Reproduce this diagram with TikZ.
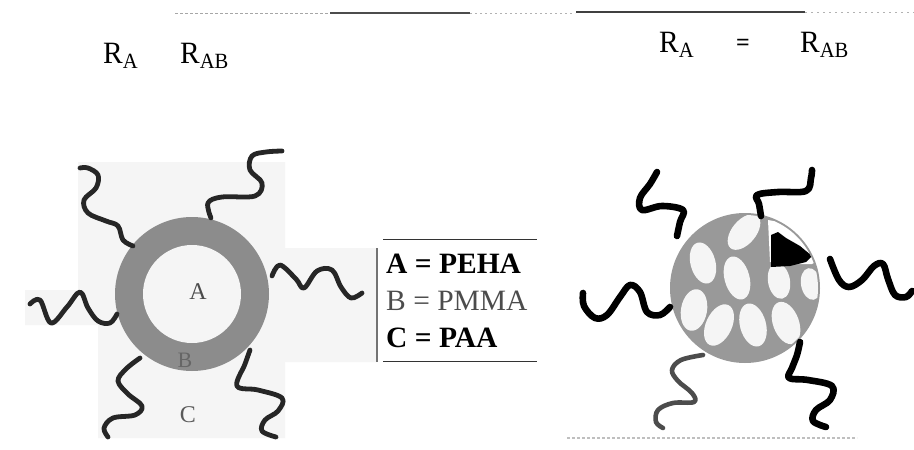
\documentclass[tikz,border=0pt]{standalone}
\usepackage{fontspec}
\setmainfont{Liberation Serif}
\begin{document}
\begin{tikzpicture}[x=1pt,y=-1pt,
  chain/.style={line width=4.8pt, draw=black!85, line cap=round, line join=round},
  bchain/.style={line width=6.6pt, draw=black, line cap=round, line join=round},
  gchain/.style={line width=4.6pt, draw=black!70, line cap=round, line join=round},
  blob/.style={fill=black!4, draw=none},
  lab/.style={font=\fontsize{31}{31}\selectfont, inner sep=0pt, anchor=base west},
  leg/.style={font=\fontsize{29.5}{29.5}\selectfont, inner sep=0pt, anchor=base west}]
\useasboundingbox (0,0) rectangle (914,450);
\fill[white] (0,0) rectangle (914,450);

% page edge lines
\draw[black!35, line width=1pt, dash pattern=on 3pt off 2pt] (175,13) -- (330,13);
\draw[black!70, line width=1.3pt] (330,13) -- (470,13);
\draw[black!30, line width=1pt, dash pattern=on 2pt off 3pt] (470,13) -- (575,13);
\draw[black!75, line width=1.5pt] (576,12) -- (805,12);
\draw[black!30, line width=1pt, dash pattern=on 2pt off 4pt] (805,12) -- (914,12);
\draw[black!25, line width=1.2pt, dash pattern=on 3pt off 2pt] (567,438) -- (857,438);

% labels
\node[lab] (ra1) at (103,63) {\scalebox{0.95}[1]{R\textsubscript{A}}};
\node[lab] (rab1) at (180,63) {\scalebox{0.95}[1]{R\textsubscript{AB}}};
\node[lab] (ra2) at (659,52) {\scalebox{0.95}[1]{R\textsubscript{A}}};
\node[lab, font=\fontsize{24}{24}\selectfont] (eq2) at (736,50) {\textbf{=}};
\node[lab] (rab2) at (800,52) {\scalebox{0.95}[1]{R\textsubscript{AB}}};

% light backdrop behind the left particle
\fill[black!4] (78,162) -- (285,162) -- (285,248) -- (377,248) -- (377,362)
  -- (285,362) -- (285,438) -- (98,438) -- (98,325) -- (25,325) -- (25,290) -- (78,290) -- cycle;
\draw[black!55, line width=2pt] (377,248) -- (377,362);

% left particle: core A, shell B, corona C
\fill[black!45] (192,294) circle (77);
\fill[black!4] (192,294) circle (49);
\node[font=\fontsize{24}{24}\selectfont, text=black!70] (la) at (198,292) {A};
\node[font=\fontsize{22}{22}\selectfont, text=black!60] (lb) at (185,360) {B};
\node[font=\fontsize{24}{24}\selectfont, text=black!65] (lc) at (188,415) {C};

\draw[chain] plot[smooth, tension=0.6] coordinates {(133,246) (123,240) (118,226) (106,221) (88,213) (84,200) (96,188) (98,175) (88,168) (80,168)};
\draw[chain] plot[smooth, tension=0.6] coordinates {(211,218) (208,203) (222,197) (255,196) (262,183) (250,170) (252,156) (266,152) (282,151)};
\draw[chain] plot[smooth, tension=0.6] coordinates {(272,276) (280,265) (296,279) (304,288) (317,271) (332,270) (341,287) (351,298) (362,293)};
\draw[chain] plot[smooth, tension=0.6] coordinates {(117,314) (110,323) (98,321) (88,308) (80,292) (67,307) (51,323) (40,300) (30,304)};
\draw[chain] plot[smooth, tension=0.6] coordinates {(140,358) (126,369) (118,381) (128,394) (142,406) (135,415) (113,418) (104,428) (108,437)};
\draw[chain] plot[smooth, tension=0.6] coordinates {(250,350) (245,364) (237,386) (258,390) (282,398) (278,411) (265,420) (262,431) (276,437)};

% legend
\draw[black!80, line width=1pt] (383,239) -- (537,239);
\draw[black!80, line width=1pt] (383,361) -- (537,361);
\node[leg] (lga) at (386,273) {\textbf{A = PEHA}};
\node[leg, text=black!70] (lgb) at (386,310) {B = PMMA};
\node[leg] (lgc) at (386,347) {\textbf{C = PAA}};

% right particle: mixed core with A domains
\fill[black!40] (745,288) circle (75);
\begin{scope}
\clip (745,288) circle (73);
\fill[blob, rotate around={-40:(744,232)}] (744,232) ellipse (12 and 21);
\fill[blob, rotate around={15:(703,263)}] (703,263) ellipse (12.5 and 21);
\fill[blob, rotate around={15:(737,278)}] (737,278) ellipse (12.5 and 22);
\fill[blob, rotate around={10:(779,281)}] (779,281) ellipse (11 and 18);
\fill[blob, rotate around={10:(811,284)}] (811,284) ellipse (10 and 16);
\fill[blob, rotate around={-10:(694,310)}] (694,310) ellipse (13 and 21);
\fill[blob, rotate around={-25:(719,325)}] (719,325) ellipse (13 and 22);
\fill[blob, rotate around={15:(753,325)}] (753,325) ellipse (13 and 22);
\fill[blob, rotate around={20:(786,323)}] (786,323) ellipse (13 and 22);
\fill[white] (768,220) -- (790,224) -- (810,238) -- (826,256) -- (812,264) -- (790,264) -- (770,262) -- cycle;
\fill[black] (771,235) -- (771,267) -- (790,266) -- (806,262) -- (812,256) -- (800,246) -- (786,238) -- (778,232) -- cycle;
\end{scope}

\draw[bchain] plot[smooth, tension=0.6] coordinates {(677,236) (680,222) (683,210) (662,206) (642,210) (640,198) (650,184) (657,172)};
\draw[bchain] plot[smooth, tension=0.6] coordinates {(761,216) (759,204) (757,195) (778,192) (806,191) (811,178) (812,170)};
\draw[bchain] plot[smooth, tension=0.6] coordinates {(830,259) (839,280) (849,287) (862,280) (874,266) (883,264) (888,279) (895,295) (906,297) (912,291)};
\draw[bchain] plot[smooth, tension=0.6] coordinates {(670,307) (660,315) (647,312) (640,292) (630,285) (620,297) (607,315) (595,318) (584,306) (583,293)};
\draw[gchain] plot[smooth, tension=0.6] coordinates {(703,355) (681,360) (672,370) (678,381) (692,393) (694,402) (673,403) (658,410) (656,422) (663,428)};
\draw[bchain] plot[smooth, tension=0.6] coordinates {(800,342) (797,355) (792,368) (789,378) (808,380) (832,386) (830,400) (816,410) (813,421) (826,427)};
\end{tikzpicture}
\end{document}
